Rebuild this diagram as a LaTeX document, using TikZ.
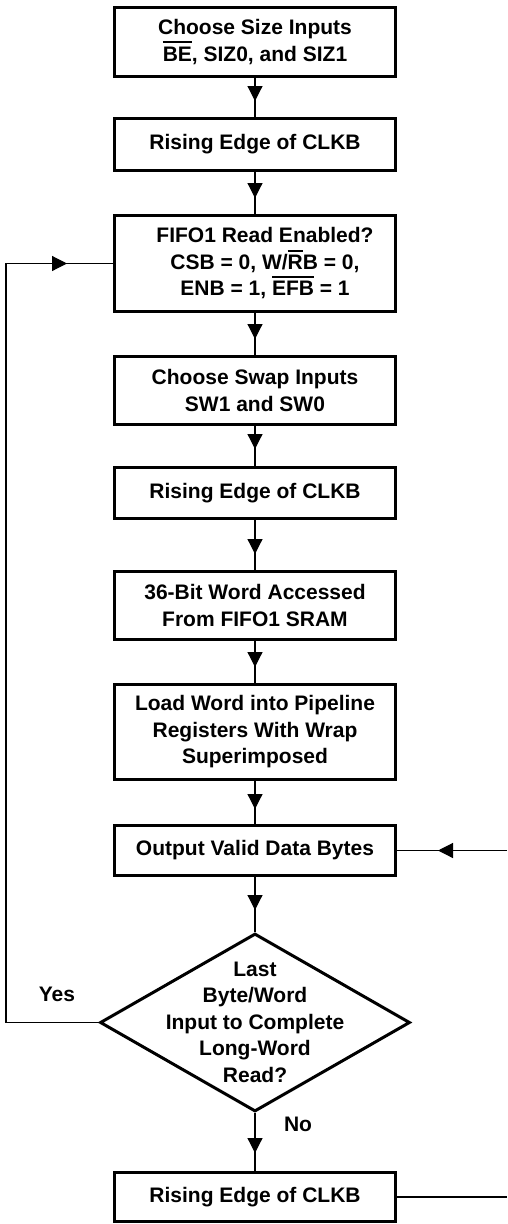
\documentclass[tikz,border=0pt]{standalone}
\usepackage{fontspec}
\setmainfont{Liberation Sans}
\usetikzlibrary{shapes.geometric,arrows.meta,decorations.markings}
\newcommand\lbl{\fontsize{21}{26.5}\selectfont\bfseries}
\newcommand\ovl[1]{\setbox0\hbox{#1}\rlap{\rule[\dimexpr\ht0+3.5pt\relax]{\wd0}{2pt}}\box0\relax}
\begin{document}
\begin{tikzpicture}[x=1pt,y=-1pt,
  box/.style={draw, line width=3pt, minimum width=281pt, inner sep=0pt, align=center, font=\lbl},
  dia/.style={draw, diamond, line width=3pt, minimum width=310pt, minimum height=178pt, inner sep=0pt},
  txt/.style={align=center, font=\lbl, inner sep=0pt},
  conn/.style={line width=1.2pt},
  flow/.style={conn, postaction={decorate},
    decoration={markings, mark=at position #1 with {\arrow{Triangle[length=15pt,width=15pt]}}}}]
\fill[white] (0,0) rectangle (507,1224);
\useasboundingbox (0,0) rectangle (507,1224);
\node[box, minimum height=69pt] (b1) at (255,42) {Choose Size Inputs\\\ovl{BE}, SIZ0, and SIZ1};
\node[box, minimum height=52pt] (b2) at (255,144.5) {Rising Edge of CLKB};
\node[box, minimum height=96pt] (b3) at (255,263.5) {\hspace*{20pt}FIFO1 Read Enabled?\\\hspace*{20pt}CSB = 0, W/\ovl{R}B = 0,\\\hspace*{20pt}ENB = 1, \ovl{EFB} = 1};
\node[box, minimum height=68pt] (b4) at (255,390.5) {Choose Swap Inputs\\SW1 and SW0};
\node[box, minimum height=51pt] (b5) at (255,493) {Rising Edge of CLKB};
\node[box, minimum height=68pt] (b6) at (255,605.5) {36-Bit Word Accessed\\From FIFO1 SRAM};
\node[box, minimum height=95pt] (b7) at (255,732) {Load Word into Pipeline\\Registers With Wrap\\Superimposed};
\node[box, minimum height=50pt] (b8) at (255,850.5) {Output Valid Data Bytes};
\node[dia] (dec) at (255,1022.5) {};
\node[txt] (dect) at (255,1022) {Last\\Byte/Word\\Input to Complete\\Long-Word\\Read?};
\node[box, minimum height=49pt] (b9) at (255,1197) {Rising Edge of CLKB};
\node[txt] (yes) at (57,994.5) {Yes};
\node[txt] (no) at (298,1124.5) {No};
\coordinate (yl) at (6,1022.5);
\coordinate (rin) at (507,850.5);
\coordinate (rout) at (507,1197);
\draw[flow={-16pt}] (b1) -- (b2);
\draw[flow={-16pt}] (b2) -- (b3);
\draw[flow={-16pt}] (b3) -- (b4);
\draw[flow={-17pt}] (b4) -- (b5);
\draw[flow={-16pt}] (b5) -- (b6);
\draw[flow={-16pt}] (b6) -- (b7);
\draw[flow={-15pt}] (b7) -- (b8);
\draw[flow={-22pt}] (b8) -- (dec);
\draw[flow={-18pt}] (dec) -- (b9);
\draw[flow={-46pt}] (dec.west) -- (yl) |- (b3.west);
\draw[flow={-41pt}] (rin) -- (b8.east);
\draw[conn] (b9.east) -- (rout);
\end{tikzpicture}
\end{document}
